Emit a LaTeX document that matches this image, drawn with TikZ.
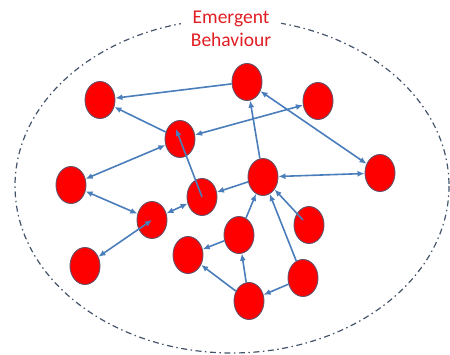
\documentclass[tikz,border=0pt]{standalone}
\usepackage{fontspec}
\setmainfont{Carlito}
\usetikzlibrary{shapes.geometric,arrows.meta}
\definecolor{agentred}{RGB}{255,0,0}
\definecolor{agentrim}{RGB}{100,80,105}
\definecolor{linkblue}{RGB}{74,126,187}
\definecolor{rimgray}{RGB}{68,84,106}
\definecolor{titlered}{RGB}{225,30,35}
\begin{document}
\begin{tikzpicture}[
        x=1pt, y=-1pt,
        agent/.style={ellipse, draw=agentrim, line width=0.9pt, fill=agentred, minimum width=30pt, minimum height=37pt, inner sep=0pt},
        link/.style={draw=linkblue, line width=1.6pt, -{Latex[length=7pt, width=6pt]}},
        two way/.style={link, {Latex[length=7pt, width=6pt]}-{Latex[length=7pt, width=6pt]}},
        boundary/.style={draw=rimgray, line width=1.2pt, dash pattern=on 6pt off 3.5pt on 1.5pt off 3.5pt},
        title_text/.style={fill=white, text=titlered, align=center, font=\fontsize{19.5}{23}\selectfont, inner xsep=10pt, inner ysep=2pt}
    ]
	\useasboundingbox (0,0) rectangle (450,355);
	\draw[boundary] (232,186) ellipse [x radius=217, y radius=167];
	\node[title_text] (title) at (231,29) {Emergent\\Behaviour};
	\node[agent] (n_1) at (100,100) {};
	\node[agent] (n_2) at (247,82) {};
	\node[agent] (n_3) at (318,101) {};
	\node[agent] (n_4) at (180,139) {};
	\node[agent] (n_5) at (380,173) {};
	\node[agent] (n_6) at (263,177) {};
	\node[agent] (n_7) at (71,185) {};
	\node[agent] (n_8) at (202,197) {};
	\node[agent] (n_9) at (152,220) {};
	\node[agent] (n_10) at (309,225) {};
	\node[agent] (n_11) at (239,235) {};
	\node[agent] (n_12) at (188,255) {};
	\node[agent] (n_13) at (85,266) {};
	\node[agent] (n_14) at (303,278) {};
	\node[agent] (n_15) at (249,301) {};
	\coordinate (n_4_tip) at (176,129);
	\coordinate (n_10_in) at (303,220);
	\draw[link] (n_2) -- (n_1);
	\draw[link] (n_4) -- (n_1);
	\draw[two way] (n_4) -- (n_3);
	\draw[two way] (n_7) -- (n_4);
	\draw[two way] (n_7) -- (n_9);
	\draw[two way] (n_9) -- (n_8);
	\draw[two way] (n_9.center) -- (n_13);
	\draw[link] (n_8.center) -- (n_4_tip);
	\draw[link] (n_6) -- (n_2);
	\draw[two way] (n_2) -- (n_5);
	\draw[two way] (n_6) -- (n_5);
	\draw[link] (n_6) -- (n_8);
	\draw[link] (n_11) -- (n_6);
	\draw[link] (n_11) -- (n_12);
	\draw[link] (n_10_in) -- (n_6);
	\draw[link] (n_14) -- (n_6);
	\draw[link] (n_15) -- (n_11);
	\draw[link] (n_15) -- (n_12);
	\draw[link] (n_14) -- (n_15);
\end{tikzpicture}
\end{document}
